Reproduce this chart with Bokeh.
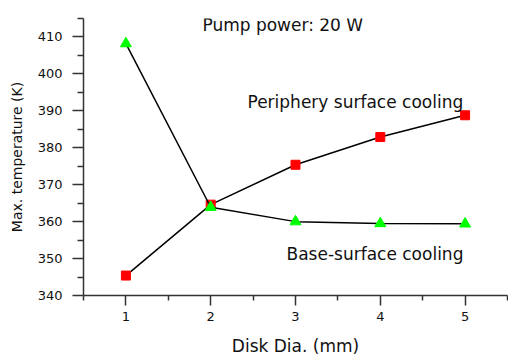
from bokeh.plotting import figure
from bokeh.models import FixedTicker, Label, Range1d
from bokeh.embed import file_html
from bokeh.resources import INLINE

# ---- data ----
disk_dia = [1, 2, 3, 4, 5]
periphery = [345.4, 364.6, 375.4, 382.9, 388.8]
base = [408.2, 363.9, 360.0, 359.5, 359.4]

x_major = [1, 2, 3, 4, 5]
x_minor = [0.5, 1.5, 2.5, 3.5, 4.5, 5.5]
y_major = [340, 350, 360, 370, 380, 390, 400, 410]
y_minor = [345, 355, 365, 375, 385, 395, 405, 415]

title_text = "Pump power: 20 W"
periphery_label = "Periphery surface cooling"
base_label = "Base-surface cooling"
x_label = "Disk Dia. (mm)"
y_label = "Max. temperature (K)"

FONT = "DejaVu Sans"
AXIS_COLOR = "#333333"
TEXT_COLOR = "#111111"

p = figure(
    frame_width=424, frame_height=277,
    min_border_left=83, min_border_right=1,
    min_border_top=18, min_border_bottom=62,
    x_range=Range1d(0.5, 5.5), y_range=Range1d(340, 415),
    output_backend="svg", toolbar_location=None,
)
p.outline_line_color = None
p.xgrid.visible = False
p.ygrid.visible = False
p.background_fill_color = "white"
p.border_fill_color = "white"

# series
p.line(disk_dia, periphery, line_color="black", line_width=1.5)
p.scatter(disk_dia, periphery, marker="square", size=9,
          fill_color="#ff0000", line_color="#ff0000")
p.line(disk_dia, base, line_color="black", line_width=1.5)
p.scatter(disk_dia, base, marker="triangle", size=11,
          fill_color="#00ff00", line_color="#00ff00")

# axes
for ax in (p.xaxis[0], p.yaxis[0]):
    ax.axis_line_color = AXIS_COLOR
    ax.axis_line_width = 1.5
    ax.major_tick_line_color = AXIS_COLOR
    ax.major_tick_line_width = 1.5
    ax.minor_tick_line_color = AXIS_COLOR
    ax.minor_tick_line_width = 1.5
    ax.major_tick_in = 0
    ax.minor_tick_in = 0
    ax.major_label_text_font = FONT
    ax.major_label_text_font_size = "13px"
    ax.major_label_text_color = TEXT_COLOR
    ax.axis_label_text_font = FONT
    ax.axis_label_text_font_style = "normal"
    ax.axis_label_text_color = TEXT_COLOR

p.xaxis.ticker = FixedTicker(ticks=x_major, minor_ticks=x_minor)
p.yaxis.ticker = FixedTicker(ticks=y_major, minor_ticks=y_minor)
p.xaxis.major_tick_out = 10
p.xaxis.minor_tick_out = 5
p.yaxis.major_tick_out = 11
p.yaxis.minor_tick_out = 6
p.xaxis.major_label_standoff = 6
p.yaxis.major_label_standoff = 10
p.xaxis.axis_label = x_label
p.yaxis.axis_label = y_label
p.xaxis.axis_label_text_font_size = "17px"
p.yaxis.axis_label_text_font_size = "14px"
p.xaxis.axis_label_standoff = 12
p.yaxis.axis_label_standoff = 10

# annotations
p.add_layout(Label(x=2.85, y=413.3, text=title_text, text_align="center",
                   text_baseline="alphabetic", text_font=FONT,
                   text_font_size="17px", text_color=TEXT_COLOR))
p.add_layout(Label(x=2.434, y=392.4, text=periphery_label, text_align="left",
                   text_baseline="alphabetic", text_font=FONT,
                   text_font_size="17px", text_color=TEXT_COLOR))
p.add_layout(Label(x=2.894, y=351.3, text=base_label, text_align="left",
                   text_baseline="alphabetic", text_font=FONT,
                   text_font_size="17px", text_color=TEXT_COLOR))

open("out.html", "w").write(file_html(p, INLINE))
